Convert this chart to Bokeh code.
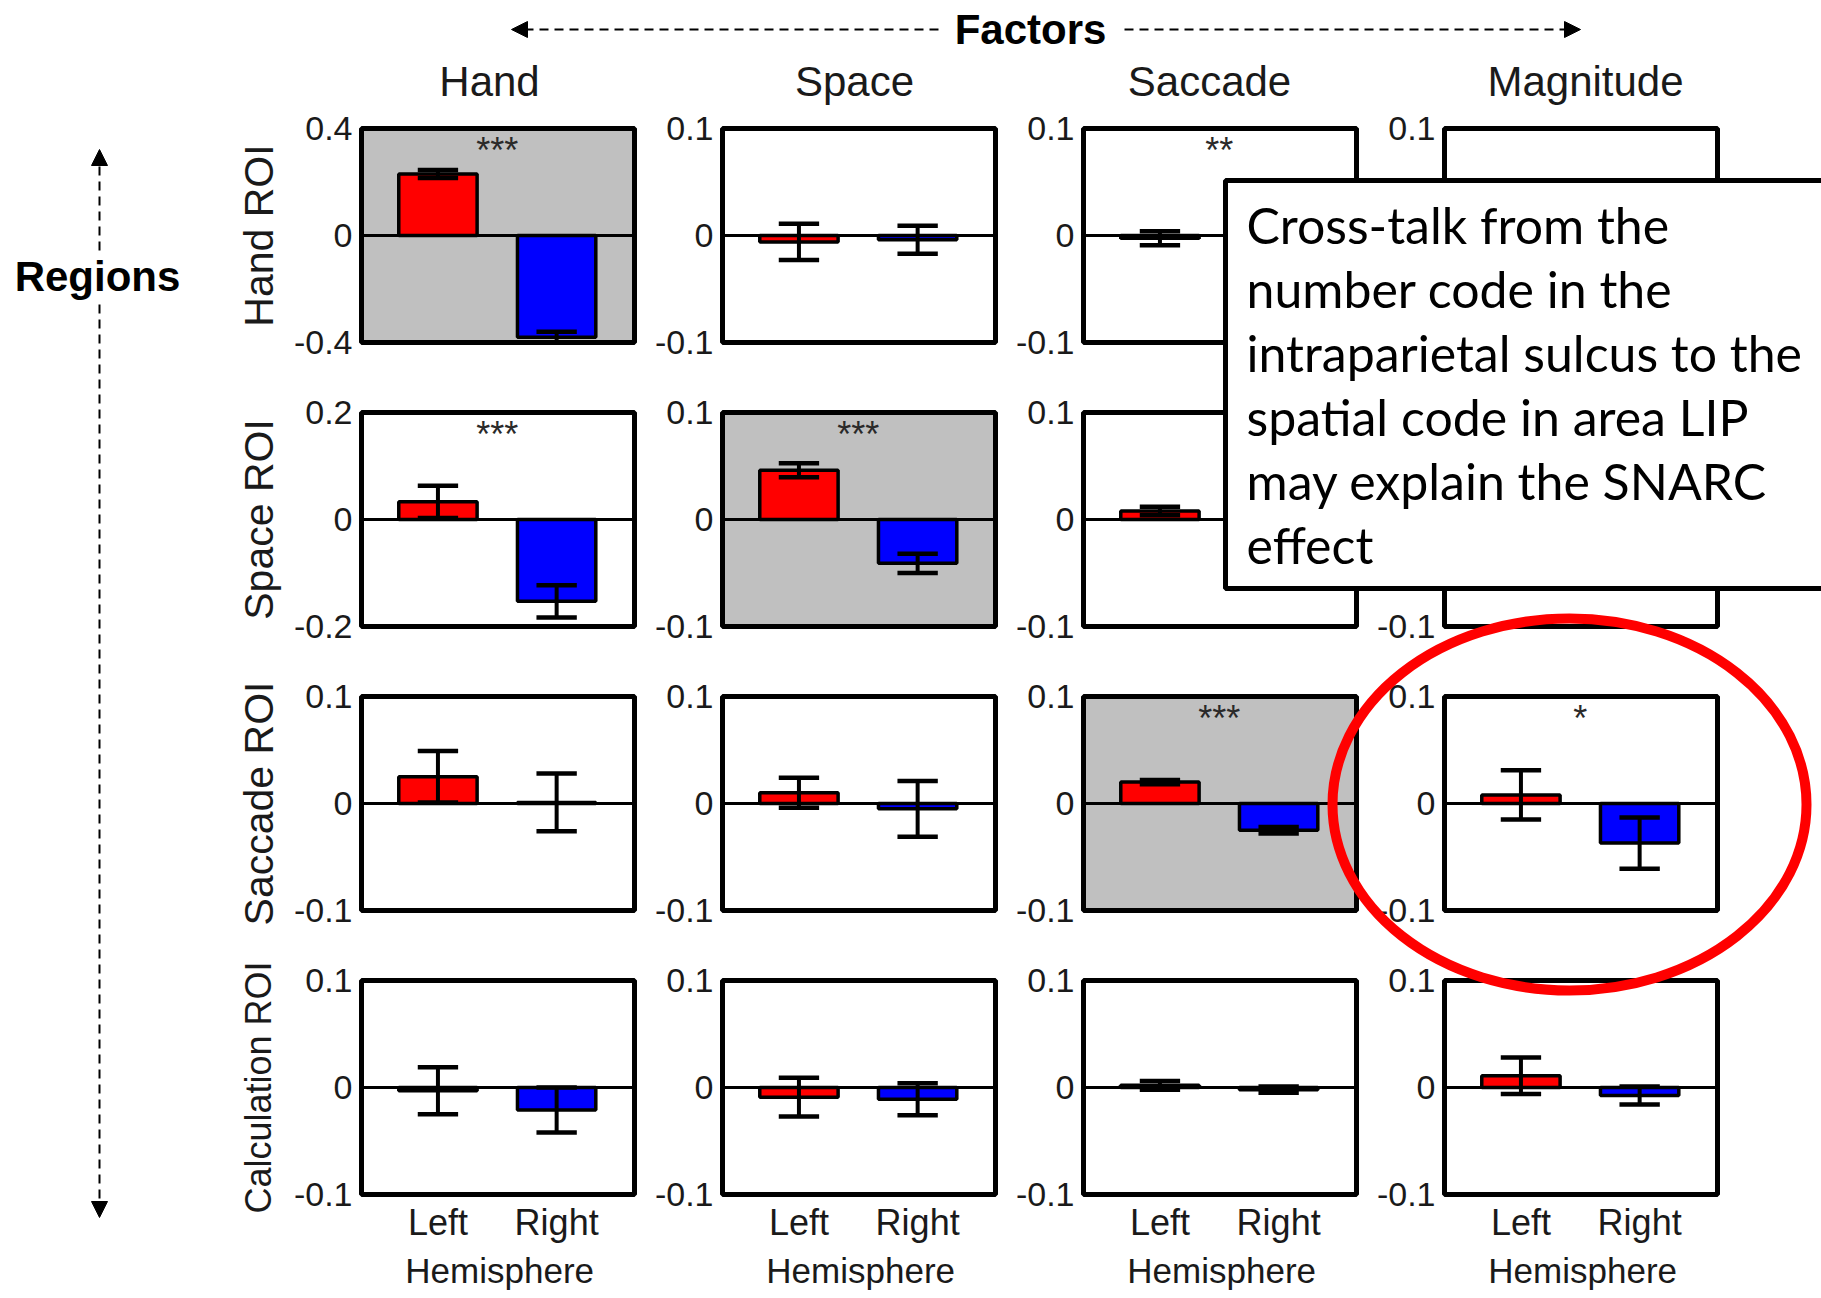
import numpy as np
from bokeh.plotting import figure
from bokeh.models import Range1d, Arrow, NormalHead
from bokeh.core.properties import value
from bokeh.embed import file_html
from bokeh.resources import INLINE

W, H = 1821, 1298

# ---------------------------------------------------------------- data
factors = ["Hand", "Space", "Saccade", "Magnitude"]
regions = ["Hand ROI", "Space ROI", "Saccade ROI", "Calculation ROI"]
hemispheres = ["Left", "Right"]

# rows = regions, columns = factors
left_mean = [
    [0.230, -0.006, -0.0025, 0.004],
    [0.033, 0.046, 0.008, 0.003],
    [0.025, 0.010, 0.020, 0.008],
    [-0.003, -0.009, 0.002, 0.011],
]
left_err = [
    [0.015, 0.017, 0.0065, 0.006],
    [0.030, 0.0065, 0.004, 0.006],
    [0.024, 0.014, 0.002, 0.023],
    [0.022, 0.018, 0.004, 0.017],
]
right_mean = [
    [-0.380, -0.004, -0.003, -0.004],
    [-0.153, -0.041, -0.004, -0.003],
    [0.001, -0.005, -0.025, -0.037],
    [-0.021, -0.011, -0.002, -0.0075],
]
right_err = [
    [0.020, 0.013, 0.005, 0.006],
    [0.030, 0.009, 0.005, 0.006],
    [0.027, 0.026, 0.003, 0.024],
    [0.021, 0.015, 0.003, 0.0085],
]
y_limit = [
    [0.4, 0.1, 0.1, 0.1],
    [0.2, 0.1, 0.1, 0.1],
    [0.1, 0.1, 0.1, 0.1],
    [0.1, 0.1, 0.1, 0.1],
]
tick_text = {0.4: ["-0.4", "0", "0.4"], 0.2: ["-0.2", "0", "0.2"], 0.1: ["-0.1", "0", "0.1"]}
stars = [
    ["***", "", "**", ""],
    ["***", "***", "", ""],
    ["", "", "***", "*"],
    ["", "", "", ""],
]
# factor that matches the region is shaded
shaded = [(0, 0), (1, 1), (2, 2)]

note_lines = [
    "Cross-talk from the",
    "number code in the",
    "intraparietal sulcus to the",
    "spatial code in area LIP",
    "may explain the SNARC",
    "effect",
]

# ---------------------------------------------------------------- layout
COL_LEFT = [361, 722, 1083, 1444]
TITLE_X = [489, 854, 1209, 1585]
ROW_TOP = [128, 412, 696, 980]
PW, PH = 273, 214
X_LO, X_HI = 0.356, 2.656
BAR_W = 0.66
CAP = 0.17
XS = np.array([1.0, 2.0])

SANS = value("Liberation Sans")
RED, BLUE, GREY = "#ff0000", "#0000ff", "#c0c0c0"
INK = "#1a1a1a"

p = figure(width=W, height=H, x_range=Range1d(0, W), y_range=Range1d(0, H),
           output_backend="svg", toolbar_location=None, min_border=0,
           x_axis_location=None, y_axis_location=None)
p.grid.visible = False
p.outline_line_color = None
p.background_fill_color = "white"
p.border_fill_color = "white"


def top_down(py):
    return H - py


for r in range(4):
    for c in range(4):
        lim = y_limit[r][c]
        x0 = COL_LEFT[c]
        t = ROW_TOP[r]
        sp = p.subplot(
            x_source=Range1d(X_LO, X_HI), y_source=Range1d(-lim, lim),
            x_target=Range1d(x0, x0 + PW), y_target=Range1d(top_down(t + PH), top_down(t)),
        )
        bg = GREY if (r, c) in shaded else "white"
        sp.quad(left=[X_LO], right=[X_HI], bottom=[-lim], top=[lim],
                fill_color=bg, line_color=None)
        sp.segment(x0=[X_LO], y0=[0], x1=[X_HI], y1=[0], line_color="black", line_width=3)

        means = np.array([left_mean[r][c], right_mean[r][c]])
        errs = np.array([left_err[r][c], right_err[r][c]])
        sp.vbar(x=XS, top=means, bottom=0, width=BAR_W, fill_color=[RED, BLUE],
                line_color="black", line_width=3.5)
        lo = np.clip(means - errs, -lim, lim)
        hi = np.clip(means + errs, -lim, lim)
        sp.segment(x0=XS, y0=lo, x1=XS, y1=hi, line_color="black", line_width=4)
        sp.segment(x0=XS - CAP, y0=hi, x1=XS + CAP, y1=hi, line_color="black", line_width=4.5)
        sp.segment(x0=XS - CAP, y0=lo, x1=XS + CAP, y1=lo, line_color="black", line_width=4.5)

        sp.quad(left=[X_LO], right=[X_HI], bottom=[-lim], top=[lim],
                fill_color=None, line_color="black", line_width=5)

        # y tick labels
        sp.text(x=[X_LO] * 3, y=[-lim, 0, lim], text=tick_text[lim], x_offset=-9,
                text_align="right", text_baseline="middle", text_font=SANS,
                text_font_size=value("34px"), text_color=INK)

        if stars[r][c]:
            sp.text(x=[1.5], y=[lim * 0.79], text=[stars[r][c]], text_align="center",
                    text_baseline="middle", text_font=SANS, text_font_size=value("36px"),
                    text_color="#2a2a2a")

        if r == 3:
            span = 2 * lim
            sp.text(x=XS, y=[-lim - span * 0.13] * 2, text=hemispheres, text_align="center",
                    text_baseline="middle", text_font=SANS, text_font_size=value("36px"),
                    text_color=INK)
            sp.text(x=[1.52], y=[-lim - span * 0.355], text=["Hemisphere"], text_align="center",
                    text_baseline="middle", text_font=SANS, text_font_size=value("35px"),
                    text_color=INK)

# column titles
p.text(x=TITLE_X, y=[top_down(81)] * 4, text=factors,
       text_align="center", text_baseline="middle", text_font=SANS,
       text_font_size=value("42px"), text_color=INK)

# row titles
p.text(x=[258, 258, 258], y=[top_down(rt + PH / 2) for rt in ROW_TOP[:3]], text=regions[:3],
       angle=np.pi / 2, text_align="center", text_baseline="middle", text_font=SANS,
       text_font_size=value("41px"), text_color=INK)
p.text(x=[258], y=[top_down(ROW_TOP[3] + PH / 2)], text=regions[3:],
       angle=np.pi / 2, text_align="center", text_baseline="middle", text_font=SANS,
       text_font_size=value("36px"), text_color=INK)

# "Factors" and "Regions" with dashed arrows
p.text(x=[1030], y=[top_down(29)], text=["Factors"], text_align="center",
       text_baseline="middle", text_font=SANS, text_font_style="bold",
       text_font_size=value("42px"), text_color="black")
p.text(x=[97], y=[top_down(276)], text=["Regions"], text_align="center",
       text_baseline="middle", text_font=SANS, text_font_style="bold",
       text_font_size=value("42px"), text_color="black")

for (xa, ya, xb, yb) in [(938, 29, 511, 29), (1124, 29, 1580, 29),
                         (99, 250, 99, 149), (99, 304, 99, 1217)]:
    p.add_layout(Arrow(x_start=xa, y_start=top_down(ya), x_end=xb, y_end=top_down(yb),
                       line_color="black", line_width=2, line_dash="9 6",
                       end=NormalHead(size=16, fill_color="black", line_color="black",
                                      line_width=1)))

# explanatory note box
p.quad(left=[1225], right=[1900], bottom=[top_down(588)], top=[top_down(180)],
       fill_color="white", line_color="black", line_width=5)
p.text(x=[1246] * len(note_lines), y=[top_down(224 + 64 * i) for i in range(len(note_lines))],
       text=note_lines, text_align="left", text_baseline="middle",
       text_font=value("Lato"), text_font_size=value("50px"), text_color="black")

# highlight ring around the Saccade-ROI / Magnitude panel
p.ellipse(x=[1569], y=[top_down(804)], width=[474], height=[372],
          fill_color=None, line_color=RED, line_width=10)

open("out.html", "w").write(file_html(p, INLINE))
